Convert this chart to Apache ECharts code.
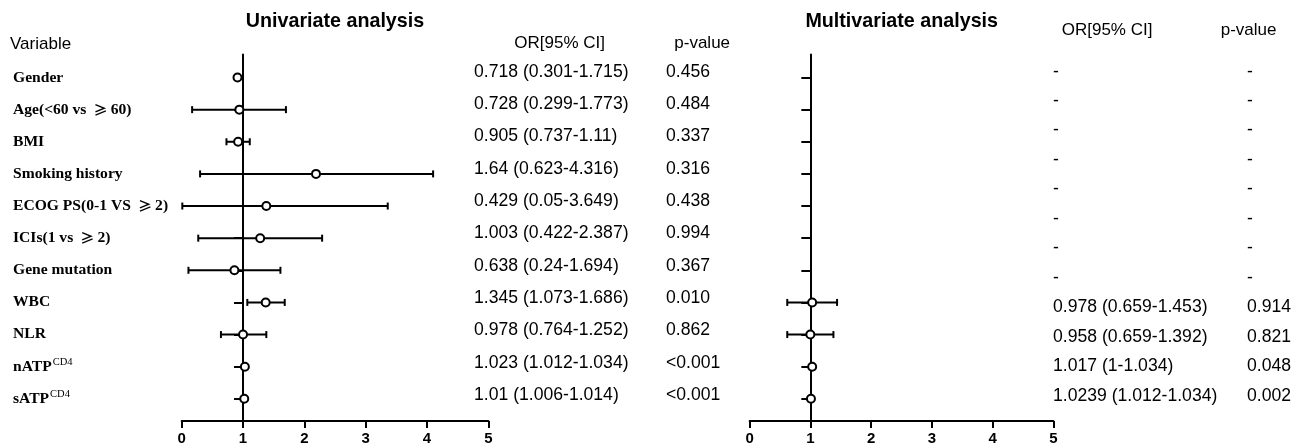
<!DOCTYPE html>
<html>
<head>
<meta charset="utf-8">
<script src="https://cdn.jsdelivr.net/npm/echarts@6/dist/echarts.min.js"></script>
<style>html,body{margin:0;padding:0;background:#fff}#main{width:1308px;height:448px}</style>
</head>
<body>
<div id="main"></div>
<script>
// ---- data ----
const variables = ['Gender','Age(<60 vs \u226560)','BMI','Smoking history','ECOG PS(0-1 VS \u22652)','ICIs(1 vs \u22652)','Gene mutation','WBC','NLR','nATP^CD4','sATP^CD4'];
const uniPoint = [0.91, 0.94, 0.92, 2.19, 1.38, 1.28, 0.86, 1.37, 1.00, 1.03, 1.02];
const uniLower = [null, 0.17, 0.73, 0.30, 0.01, 0.27, 0.11, 1.07, 0.64, null, null];
const uniUpper = [null, 1.70, 1.11, 4.10, 3.36, 2.29, 1.61, 1.68, 1.38, null, null];
const multiPoint = [null, null, null, null, null, null, null, 1.03, 1.00, 1.03, 1.01];
const multiLower = [null, null, null, null, null, null, null, 0.62, 0.62, null, null];
const multiUpper = [null, null, null, null, null, null, null, 1.44, 1.38, null, null];
const uniOR = ['0.718 (0.301-1.715)','0.728 (0.299-1.773)','0.905 (0.737-1.11)','1.64 (0.623-4.316)','0.429 (0.05-3.649)','1.003 (0.422-2.387)','0.638 (0.24-1.694)','1.345 (1.073-1.686)','0.978 (0.764-1.252)','1.023 (1.012-1.034)','1.01 (1.006-1.014)'];
const uniP = ['0.456','0.484','0.337','0.316','0.438','0.994','0.367','0.010','0.862','<0.001','<0.001'];
const multiOR = ['-','-','-','-','-','-','-','-','0.978 (0.659-1.453)','0.958 (0.659-1.392)','1.017 (1-1.034)','1.0239 (1.012-1.034)'];
const multiP = ['-','-','-','-','-','-','-','-','0.914','0.821','0.048','0.002'];
const xTicks = [0, 1, 2, 3, 4, 5];

// ---- layout ----
const SANS = 'Liberation Sans, Arial, sans-serif';
const SERIF = 'Liberation Serif, Times New Roman, serif';
const plotTop = 54.5, plotH = 366.5;
const uniGrid = {left: 181.7, top: plotTop, width: 306.6, height: plotH};
const mulGrid = {left: 749.6, top: plotTop, width: 303.7, height: plotH};
const rowIdx = variables.map((_, i) => i);

function barData(lo, hi) {
  const out = [];
  rowIdx.forEach(i => { if (lo[i] != null && hi[i] != null) out.push([i, lo[i], hi[i]]); });
  return out;
}
function pointData(pt) {
  const out = [];
  rowIdx.forEach(i => { if (pt[i] != null) out.push([pt[i], i]); });
  return out;
}
function renderBar(params, api) {
  const y = api.value(0), lo = api.value(1), hi = api.value(2);
  const a = api.coord([lo, y]), b = api.coord([hi, y]);
  const h = 3.5, st = {stroke: '#000', lineWidth: 2};
  return {type: 'group', children: [
    {type: 'line', shape: {x1: a[0], y1: a[1], x2: b[0], y2: b[1]}, style: st},
    {type: 'line', shape: {x1: a[0], y1: a[1] - h, x2: a[0], y2: a[1] + h}, style: st},
    {type: 'line', shape: {x1: b[0], y1: b[1] - h, x2: b[0], y2: b[1] + h}, style: st}
  ]};
}
function forestX(gi) {
  return {gridIndex: gi, type: 'value', min: 0, max: 5, interval: 1,
    axisLine: {onZero: false, lineStyle: {color: '#000', width: 2}},
    axisTick: {length: 7, lineStyle: {color: '#000', width: 2}},
    axisLabel: {color: '#000', fontFamily: SANS, fontWeight: 'bold', fontSize: 15, margin: 10,
      customValues: xTicks},
    splitLine: {show: false}};
}
function forestY(gi, g) {
  return {gridIndex: gi, type: 'value', inverse: true, min: -0.716, max: 10.69, position: 'left',
    offset: -(g.width / 5),
    axisLine: {show: true, onZero: false, lineStyle: {color: '#000', width: 2}},
    axisTick: {show: true, length: 9, lineStyle: {color: '#000', width: 2}, customValues: rowIdx},
    axisLabel: {show: false}, splitLine: {show: false}};
}
function textX(gi) {
  return {gridIndex: gi, type: 'value', min: 0, max: 1, show: false};
}
function textY(gi, data) {
  return {gridIndex: gi, type: 'category', inverse: true, data: data,
    axisLine: {show: false}, axisTick: {show: false}, splitLine: {show: false},
    axisLabel: {align: 'left', margin: 0, color: '#000', fontFamily: SANS, fontSize: 17.6, interval: 0}};
}

const labelAxis = textY(2, variables);
labelAxis.axisLabel = {align: 'left', margin: 0, interval: 0,
  formatter: function (v) {
    const p = v.split('^');
    let main = p[0].split('\u2265').map(s => s ? '{b|' + s + '}' : '').join('{g| \u2265 }');
    return p.length > 1 ? main + '{s|' + p[1] + '}' : main;
  },
  rich: {
    b: {fontFamily: SERIF, fontWeight: 'bold', fontSize: 15.6, color: '#000', lineHeight: 19},
    g: {fontFamily: 'Noto Sans CJK SC, DejaVu Sans, sans-serif', fontWeight: 'bold', fontSize: 14, color: '#000', lineHeight: 19},
    s: {fontFamily: SERIF, fontSize: 10.5, color: '#000', verticalAlign: 'top', lineHeight: 19, padding: [0, 0, 0, 1]}
  }};

function txt(text, x, y, size, bold, align) {
  return {type: 'text', x: x, y: y, silent: true,
    style: {text: text, fontFamily: SANS, fontSize: size, fontWeight: bold ? 'bold' : 'normal',
      fill: '#000', align: align || 'left', verticalAlign: 'middle',
      textAlign: align || 'left', textVerticalAlign: 'middle'}};
}

const option = {
  backgroundColor: '#fff',
  animation: false,
  graphic: [
    txt('Univariate analysis', 335, 22, 19.7, true, 'center'),
    txt('Multivariate analysis', 901.7, 22, 19.7, true, 'center'),
    txt('Variable', 10, 44, 17, false),
    txt('OR[95% CI]', 514.3, 43.3, 17, false),
    txt('p-value', 674.3, 43.3, 17, false),
    txt('OR[95% CI]', 1061.7, 30, 17, false),
    txt('p-value', 1220.7, 30, 17, false)
  ],
  grid: [
    uniGrid,
    mulGrid,
    {left: 13, top: 61.44, width: 10, height: 353.3},
    {left: 474, top: 55.5, width: 10, height: 355.7},
    {left: 666, top: 55.5, width: 10, height: 355.7},
    {left: 1053, top: 57, width: 10, height: 353.4},
    {left: 1247, top: 57, width: 10, height: 353.4}
  ],
  xAxis: [forestX(0), forestX(1), textX(2), textX(3), textX(4), textX(5), textX(6)],
  yAxis: [forestY(0, uniGrid), forestY(1, mulGrid), labelAxis,
    textY(3, uniOR), textY(4, uniP), textY(5, multiOR), textY(6, multiP)],
  series: [
    {type: 'custom', xAxisIndex: 0, yAxisIndex: 0, renderItem: renderBar,
      encode: {x: [1, 2], y: 0}, data: barData(uniLower, uniUpper), z: 2},
    {type: 'scatter', xAxisIndex: 0, yAxisIndex: 0, data: pointData(uniPoint), symbol: 'circle', symbolSize: 8,
      itemStyle: {color: '#fff', borderColor: '#000', borderWidth: 2, opacity: 1}, z: 5},
    {type: 'custom', xAxisIndex: 1, yAxisIndex: 1, renderItem: renderBar,
      encode: {x: [1, 2], y: 0}, data: barData(multiLower, multiUpper), z: 2},
    {type: 'scatter', xAxisIndex: 1, yAxisIndex: 1, data: pointData(multiPoint), symbol: 'circle', symbolSize: 8,
      itemStyle: {color: '#fff', borderColor: '#000', borderWidth: 2, opacity: 1}, z: 5}
  ]
};
const chart = echarts.init(document.getElementById('main'));
chart.setOption(option);
</script>
</body>
</html>
